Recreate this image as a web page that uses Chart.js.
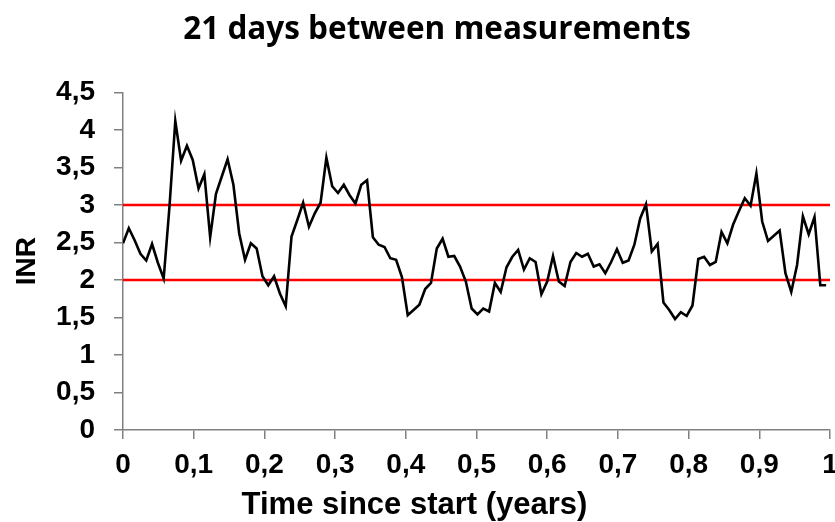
<!DOCTYPE html>
<html><head><meta charset="utf-8">
<script src="https://cdn.jsdelivr.net/npm/chart.js@4/dist/chart.umd.min.js"></script>
<style>html,body{margin:0;padding:0;background:#fff}#wrap{width:835px;height:522px}</style>
</head><body><div id="wrap"><canvas id="c" width="835" height="522"></canvas></div>
<script>
const chartTitle = '21 days between measurements';
const xAxisTitle = 'Time since start (years)';
const yAxisTitle = 'INR';
const daysBetweenPoints = 3;
const daysPerYear = 365;
const inrValues = [
  2.49, 2.69, 2.53, 2.35, 2.26, 2.48, 2.23, 2.02, 2.98, 4.12,
  3.59, 3.79, 3.60, 3.22, 3.41, 2.57, 3.15, 3.38, 3.61, 3.27,
  2.62, 2.27, 2.49, 2.42, 2.05, 1.93, 2.05, 1.82, 1.65, 2.58,
  2.80, 3.03, 2.71, 2.89, 3.03, 3.63, 3.25, 3.16, 3.27, 3.13,
  3.02, 3.27, 3.33, 2.57, 2.47, 2.44, 2.29, 2.27, 2.04, 1.53,
  1.60, 1.67, 1.88, 1.96, 2.42, 2.55, 2.31, 2.32, 2.18, 1.98,
  1.62, 1.54, 1.62, 1.58, 1.96, 1.84, 2.17, 2.31, 2.40, 2.14,
  2.29, 2.24, 1.81, 1.98, 2.32, 1.98, 1.92, 2.24, 2.36, 2.31,
  2.35, 2.18, 2.21, 2.09, 2.24, 2.41, 2.23, 2.26, 2.47, 2.82,
  3.01, 2.38, 2.48, 1.70, 1.60, 1.48, 1.57, 1.52, 1.66, 2.28,
  2.31, 2.20, 2.24, 2.64, 2.49, 2.74, 2.92, 3.09, 2.99, 3.42,
  2.78, 2.52, 2.59, 2.66, 2.09, 1.84, 2.20, 2.85, 2.61, 2.84,
  1.93, 1.93
];
const targetLow = 2;
const targetHigh = 3;
const xRange = [0, 1];
const yRange = [0, 4.5];
const xStep = 0.1;
const yStep = 0.5;

const fmt = v => String(Number(Number(v).toFixed(1))).replace('.', ',');

const inrPoints = inrValues.map((v, i) => ({ x: i * daysBetweenPoints / daysPerYear, y: v }));
const lowLine = xRange.map(x => ({ x, y: targetLow }));
const highLine = xRange.map(x => ({ x, y: targetHigh }));

const textPlugin = {
  id: 'texts',
  afterDraw(chart) {
    const ctx = chart.ctx;
    ctx.save();
    ctx.fillStyle = '#000';
    ctx.textAlign = 'center';
    ctx.textBaseline = 'alphabetic';
    ctx.font = 'bold 31.5px "Open Sans"';
    ctx.fillText(chartTitle, 437, 38.5);
    ctx.font = 'bold 31px "Liberation Sans"';
    ctx.fillText(xAxisTitle, 414.5, 514);
    ctx.restore();
  }
};

const axisColor = '#808080';

new Chart(document.getElementById('c'), {
  type: 'line',
  data: {
    datasets: [
      { label: 'INR', data: inrPoints, borderColor: '#000', borderWidth: 2.6, pointRadius: 0, tension: 0, order: 0 },
      { label: 'low', data: lowLine, borderColor: '#ff0000', borderWidth: 2.7, pointRadius: 0, order: 1 },
      { label: 'high', data: highLine, borderColor: '#ff0000', borderWidth: 2.7, pointRadius: 0, order: 1 }
    ]
  },
  plugins: [textPlugin],
  options: {
    responsive: false,
    animation: false,
    devicePixelRatio: 1,
    layout: { padding: { top: 92.5, right: 5, left: 0, bottom: 0 } },
    plugins: { legend: { display: false }, tooltip: { enabled: false }, title: { display: false } },
    scales: {
      x: {
        type: 'linear', min: xRange[0], max: xRange[1],
        ticks: { stepSize: xStep, callback: fmt, color: '#000', font: { family: 'Liberation Sans', size: 28, weight: 'bold' }, padding: 9, maxRotation: 0, autoSkip: false },
        grid: { drawOnChartArea: false, drawTicks: true, tickLength: 9, color: axisColor, lineWidth: 1.5 },
        border: { display: true, color: axisColor, width: 1.5 },
        afterFit(s) { s.height = 92; s.paddingLeft = 0; s.paddingRight = 0; }
      },
      y: {
        type: 'linear', min: yRange[0], max: yRange[1],
        ticks: { stepSize: yStep, callback: fmt, color: '#000', font: { family: 'Liberation Sans', size: 28, weight: 'bold' }, padding: 19 },
        grid: { drawOnChartArea: false, drawTicks: true, tickLength: 9, color: axisColor, lineWidth: 1.5 },
        border: { display: true, color: axisColor, width: 1.5 },
        title: { display: true, text: yAxisTitle, color: '#000', font: { family: 'Liberation Sans', size: 28, weight: 'bold' }, padding: { top: 10, bottom: 0 } },
        afterFit(s) { s.width = 123; s.paddingTop = 0; s.paddingBottom = 0; }
      }
    }
  }
});
</script>
</body></html>
